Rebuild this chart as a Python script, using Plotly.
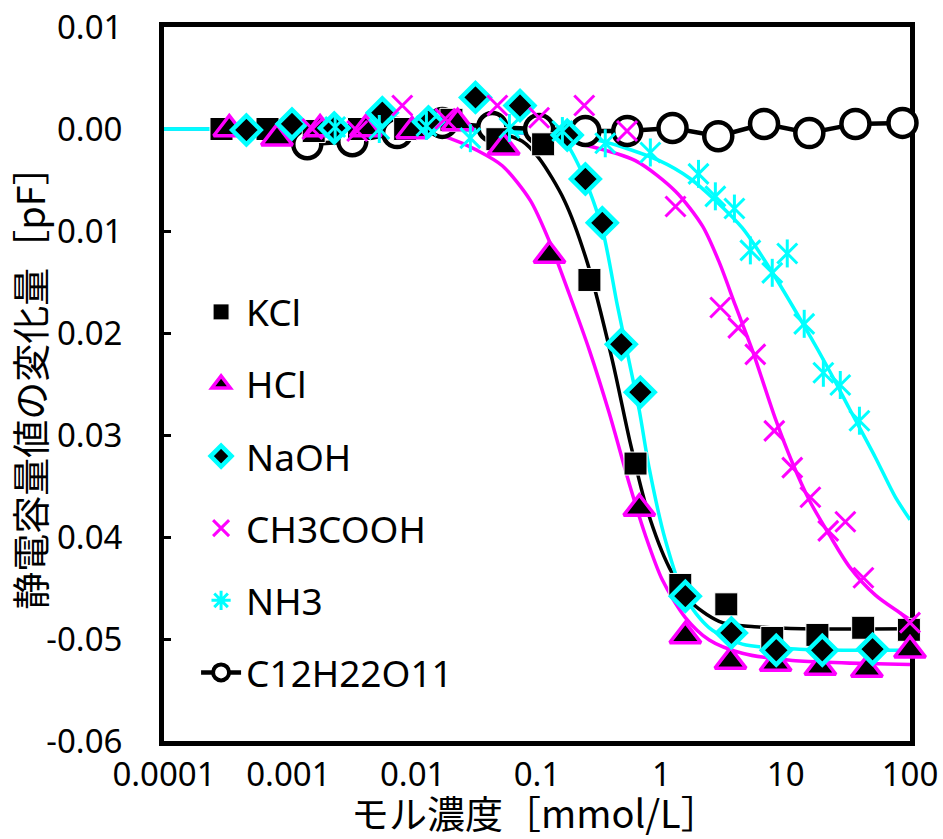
import plotly.graph_objects as go

# ---- measured points: concentration [mmol/L] vs capacitance change [pF] ----
kcl_x = [0.00029, 0.00068, 0.0016, 0.0037, 0.0087, 0.0205, 0.048, 0.112, 0.264, 0.62,
         1.42, 3.33, 7.8, 18, 42, 98]
kcl_y = [0.0, 0.0, -0.0002, 0.0, 0.0, 0.0009, -0.001, -0.0015, -0.0148, -0.0328,
         -0.0447, -0.0466, -0.0499, -0.0496, -0.0489, -0.0491]

hcl_x = [0.000335, 0.00081, 0.0018, 0.0042, 0.0099, 0.023, 0.054, 0.126, 0.665,
         1.56, 3.6, 8.3, 19, 45, 100]
hcl_y = [0.0, -0.0009, 0.0, 0.0, -0.0002, 0.0006, -0.0018, -0.0124, -0.0372,
         -0.0497, -0.0522, -0.0524, -0.0528, -0.053, -0.0511]

naoh_x = [0.00046, 0.00107, 0.00234, 0.0057, 0.0134, 0.032, 0.073, 0.175, 0.245,
          0.335, 0.477, 0.678, 1.56, 3.66, 8.4, 19.7, 50]
naoh_y = [-0.0001, 0.0005, 0.0001, 0.0016, 0.0007, 0.0031, 0.0023, -0.0006, -0.0049,
          -0.0092, -0.0211, -0.0258, -0.0458, -0.0494, -0.0511, -0.0511, -0.051]

acetic_x = [0.00156, 0.00358, 0.00825, 0.0183, 0.048, 0.104, 0.24, 0.53, 1.3, 2.98,
            4.16, 5.7, 8.1, 11.3, 15.8, 22, 30.2, 42.2, 100]
acetic_y = [0.0, -0.0002, 0.0023, 0.001, 0.0023, 0.0011, 0.0023, -0.0002, -0.0076,
            -0.0175, -0.0195, -0.0221, -0.0296, -0.0332, -0.0361, -0.0394, -0.0385,
            -0.044, -0.0484]

nh3_x = [0.00238, 0.00539, 0.0129, 0.0291, 0.06, 0.16, 0.354, 0.816, 1.99, 2.72,
         3.87, 5.2, 7.8, 10.3, 14.1, 20.1, 27.5, 39.2]
nh3_y = [0.0002, 0.0, 0.0003, -0.0009, 0.0001, -0.0002, -0.0014, -0.0023, -0.0044,
         -0.0066, -0.0078, -0.0119, -0.0141, -0.0122, -0.0191, -0.0239, -0.0251, -0.0286]

sucrose_x = [0.00142, 0.00327, 0.0075, 0.0173, 0.0437, 0.104, 0.245, 0.532, 1.23,
             2.87, 6.7, 15.5, 36.4, 87]
sucrose_y = [-0.0015, -0.0012, -0.0004, 0.0006, 0.0002, 0.0, -0.0002, -0.0002, 0.0001,
             -0.0007, 0.0005, -0.0004, 0.0005, 0.0006]

# ---- fitted response curves ----
kcl_fit_x = [0.0001, 0.00825, 0.0302, 0.0526, 0.0762, 0.1044, 0.166, 0.254, 0.404,
             0.563, 0.772, 1.159, 1.776, 3.1, 5.6, 13.6, 100]
kcl_fit_y = [0, 0, -0.0001, -0.0005, -0.0012, -0.0029, -0.0070, -0.0131, -0.0227,
             -0.0308, -0.0374, -0.0430, -0.0465, -0.0484, -0.0488, -0.049, -0.049]

hcl_fit_x = [0.0001, 0.00569, 0.01195, 0.0197, 0.0331, 0.0526, 0.0883, 0.1256, 0.182,
             0.264, 0.382, 0.553, 0.743, 1.018, 1.56, 2.43, 4.48, 11.3, 100]
hcl_fit_y = [0, 0, -0.0002, -0.0009, -0.0021, -0.0036, -0.0070, -0.0110, -0.0162,
             -0.0217, -0.0279, -0.0348, -0.0398, -0.0442, -0.0479, -0.0501, -0.0514,
             -0.0521, -0.0525]

naoh_fit_x = [0.0001, 0.0363, 0.0917, 0.1327, 0.16, 0.231, 0.335, 0.443, 0.553, 0.665,
              0.80, 1.077, 1.53, 2.43, 4.48, 12.9, 100]
naoh_fit_y = [0, 0, -0.0001, -0.0004, -0.0009, -0.0043, -0.0098, -0.0173, -0.0229,
              -0.0276, -0.0333, -0.0403, -0.0458, -0.0489, -0.0505, -0.051, -0.0511]

acetic_fit_x = [0.0001, 0.0208, 0.0526, 0.110, 0.231, 0.618, 1.297, 2.14, 2.93, 3.94,
                5.40, 8.26, 11.3, 15.5, 22.5, 32.5, 52.7, 82.2, 100]
acetic_fit_y = [0, 0, -0.0002, -0.0007, -0.0015, -0.0031, -0.0061, -0.0095, -0.0131,
                -0.0173, -0.0217, -0.0284, -0.0327, -0.0364, -0.0398, -0.0429, -0.0457,
                -0.0474, -0.0481]

nh3_fit_x = [0.0001, 0.0208, 0.0762, 0.16, 0.335, 0.963, 1.68, 2.72, 4.48, 7.39, 14.4,
             22.5, 32.5, 52.7, 76.3, 100]
nh3_fit_y = [0, -0.0001, -0.0004, -0.0007, -0.0012, -0.0031, -0.0048, -0.0070, -0.0097,
             -0.0136, -0.0195, -0.0237, -0.0274, -0.0322, -0.0361, -0.0383]

# ---- axis ticks ----
x_tick_vals = [0.0001, 0.001, 0.01, 0.1, 1, 10, 100]
x_tick_text = ["0.0001", "0.001", "0.01", "0.1", "1", "10", "100"]
y_tick_vals = [0.01, 0.0, -0.01, -0.02, -0.03, -0.04, -0.05, -0.06]
y_tick_text = ["0.01", "0.00", "-0.01", "-0.02", "-0.03", "-0.04", "-0.05", "-0.06"]

MAGENTA = "#FF00FF"
CYAN = "#00FFFF"
BLACK = "#000000"
FONT = "Noto Sans, Noto Sans CJK JP, sans-serif"
CJK_FONT = "Noto Sans CJK JP, Noto Sans, sans-serif"

fig = go.Figure()

# fitted curves (drawn underneath the markers)
for fx, fy, col in [
    (kcl_fit_x, kcl_fit_y, BLACK),
    (hcl_fit_x, hcl_fit_y, MAGENTA),
    (acetic_fit_x, acetic_fit_y, MAGENTA),
    (naoh_fit_x, naoh_fit_y, CYAN),
    (nh3_fit_x, nh3_fit_y, CYAN),
]:
    fig.add_trace(go.Scatter(
        x=fx, y=fy, mode="lines",
        line=dict(color=col, width=3.5, shape="spline", smoothing=0.8),
        showlegend=False, hoverinfo="skip",
    ))

# sucrose: markers joined by a straight line, lowest marker layer
fig.add_trace(go.Scatter(
    x=sucrose_x, y=sucrose_y, mode="lines+markers",
    line=dict(color=BLACK, width=4.5),
    marker=dict(symbol="circle", size=28, color="white", line=dict(color=BLACK, width=4.5)),
    showlegend=False, cliponaxis=False,
))

fig.add_trace(go.Scatter(
    x=kcl_x, y=kcl_y, mode="markers", name="KCl", legendgroup="g1",
    marker=dict(symbol="square", size=23, color=BLACK, line=dict(color="white", width=1)),
    cliponaxis=False,
))
fig.add_trace(go.Scatter(
    x=hcl_x, y=hcl_y, mode="markers", name="HCl", legendgroup="g2",
    marker=dict(symbol="triangle-up", size=27, color=BLACK, line=dict(color=MAGENTA, width=3.5)),
    cliponaxis=False,
))
fig.add_trace(go.Scatter(
    x=naoh_x, y=naoh_y, mode="markers", name="NaOH", legendgroup="g3",
    marker=dict(symbol="diamond", size=22, color=BLACK, line=dict(color=CYAN, width=4.5)),
    cliponaxis=False,
))
fig.add_trace(go.Scatter(
    x=acetic_x, y=acetic_y, mode="markers", name="CH3COOH", legendgroup="g4",
    marker=dict(symbol="x-thin", size=20, line=dict(color=MAGENTA, width=3)),
    cliponaxis=False,
))
# NH3 star marker = diagonal cross + vertical bar
fig.add_trace(go.Scatter(
    x=nh3_x, y=nh3_y, mode="markers", showlegend=False, legendgroup="g5",
    marker=dict(symbol="x-thin", size=20, line=dict(color=CYAN, width=3)),
    cliponaxis=False,
))
fig.add_trace(go.Scatter(
    x=nh3_x, y=nh3_y, mode="markers", showlegend=False, legendgroup="g5",
    marker=dict(symbol="line-ns", size=20, line=dict(color=CYAN, width=3)),
    cliponaxis=False,
))
# legend entries for NH3 and sucrose
fig.add_trace(go.Scatter(
    x=[None], y=[None], mode="markers", name="NH3", legendgroup="g5",
    marker=dict(symbol="asterisk", size=20, line=dict(color=CYAN, width=3)),
))
fig.add_trace(go.Scatter(
    x=[None], y=[None], mode="lines+markers", name="C12H22O11", legendgroup="g6",
    line=dict(color=BLACK, width=4.5),
    marker=dict(symbol="circle", size=26, color="white", line=dict(color=BLACK, width=4)),
))

fig.update_layout(
    width=943, height=839,
    margin=dict(l=164, r=33, t=27, b=98),
    plot_bgcolor="white", paper_bgcolor="white",
    font=dict(family=FONT, color=BLACK),
    legend=dict(
        x=0.043, y=0.6438, xanchor="left", yanchor="top",
        font=dict(size=37, family=FONT, color=BLACK),
        bgcolor="rgba(0,0,0,0)", tracegroupgap=21, itemwidth=40,
        traceorder="grouped",
    ),
    xaxis=dict(
        type="log", range=[-4, 2], automargin=False,
        tickvals=x_tick_vals, ticktext=x_tick_text,
        ticks="", showgrid=False, zeroline=False,
        showline=True, linewidth=5, linecolor=BLACK, mirror=True,
        tickfont=dict(size=33, family=FONT, color=BLACK),
        ticklabelstandoff=0, layer="below traces",
    ),
    yaxis=dict(
        range=[-0.06, 0.01], automargin=False,
        tickvals=y_tick_vals, ticktext=y_tick_text,
        ticks="inside", ticklen=7, tickwidth=3, tickcolor=BLACK,
        showgrid=False, zeroline=False,
        showline=True, linewidth=5, linecolor=BLACK, mirror=True,
        tickfont=dict(size=33, family=FONT, color=BLACK),
        ticklabelstandoff=30, layer="below traces",
    ),
    annotations=[
        dict(text="静電容量値の変化量［pF］", xref="paper", yref="paper",
             x=-0.181, y=0.5087, xanchor="center", yanchor="middle",
             textangle=-90, showarrow=False, bgcolor="white", borderpad=0,
             font=dict(size=38, family=CJK_FONT, color=BLACK)),
        dict(text="モル濃度［mmol/L］", xref="paper", yref="paper",
             x=0.497, y=-0.099, xanchor="center", yanchor="middle",
             showarrow=False,
             font=dict(size=38, family=CJK_FONT, color=BLACK)),
    ],
)

fig.write_html("out.html")
